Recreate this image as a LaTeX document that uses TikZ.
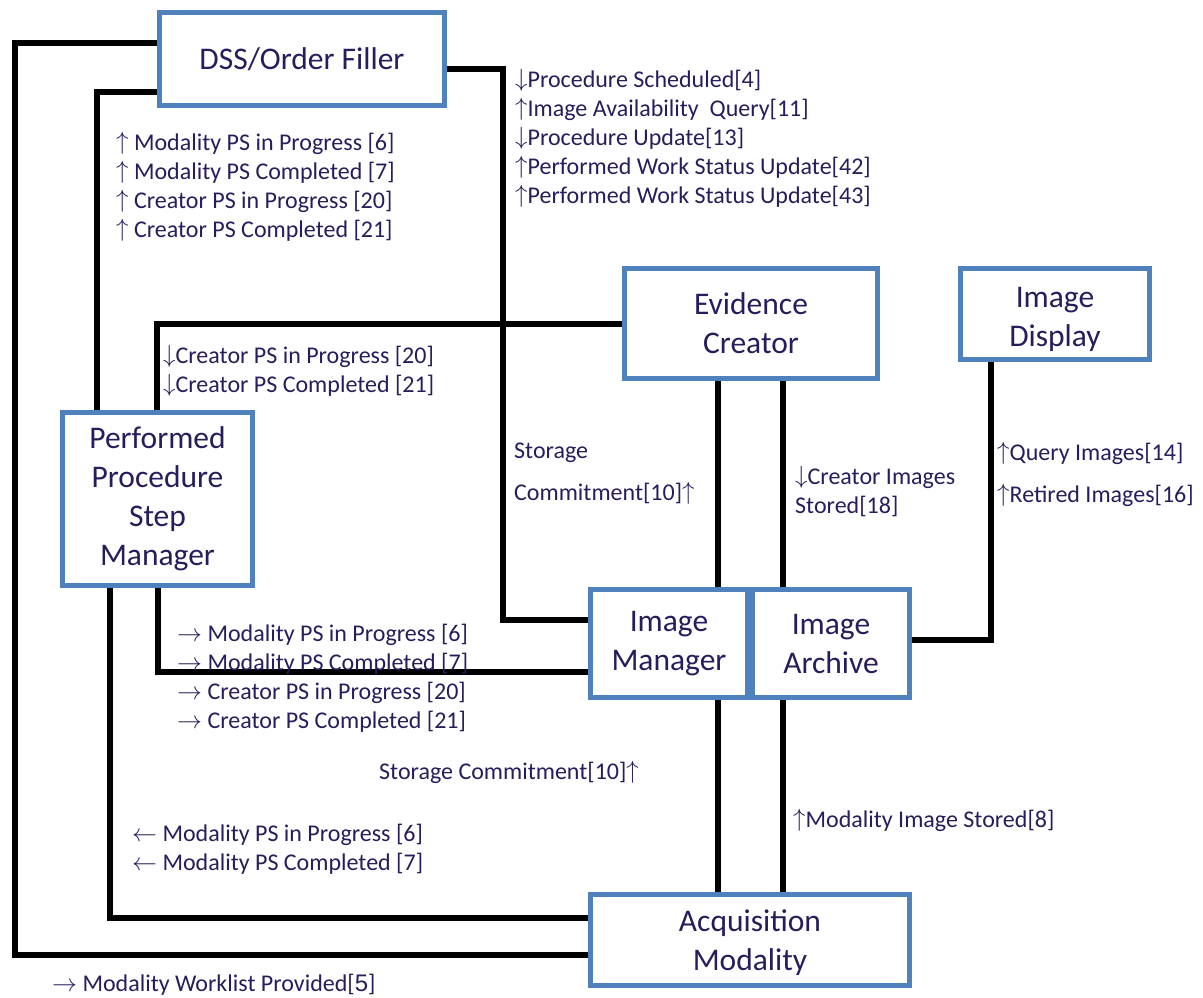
\documentclass[tikz,border=0pt]{standalone}
\usepackage{fontspec}
\setmainfont{Carlito}
\newfontfamily\numfont{Liberation Sans}
\usetikzlibrary{backgrounds}
\definecolor{boxblue}{RGB}{79,129,189}
\definecolor{ink}{RGB}{38,30,92}
\newcommand{\arUp}{\raisebox{1pt}{$\uparrow$}}
\newcommand{\arDn}{\raisebox{1pt}{$\downarrow$}}
\newcommand{\arRt}{$\rightarrow$}
\newcommand{\arLt}{$\leftarrow$}
\begin{document}
\begin{tikzpicture}[x=1pt,y=-1pt,
  boxtext/.style={text=ink,align=center,font=\fontsize{31.5}{39}\selectfont},
  box/.style={draw=boxblue,line width=5pt,fill=white,inner sep=0pt,boxtext},
  wire/.style={line width=6pt,black},
  lbl/.style={text=ink,align=left,anchor=west,inner sep=0pt,
    font=\fontsize{24}{29}\selectfont},
  widelbl/.style={lbl,font=\fontsize{24}{42}\selectfont}]
\useasboundingbox (0,0) rectangle (1203,997);

% actors
\node[box,minimum width=285,minimum height=93] (dss) at (302,59) {DSS/Order Filler};
\node[box,minimum width=253,minimum height=110] (ec) at (751,323.5) {Evidence\\Creator};
\node[box,minimum width=189,minimum height=91,
  label={[boxtext,yshift=-5pt]center:{Image\\Display}}] (idisp) at (1055,314) {};
\node[box,minimum width=190,minimum height=173] (ppsm) at (157.5,499) {Performed\\Procedure\\Step\\Manager};
\node[box,minimum width=157,minimum height=108] (im) at (669,643.5) {Image\\Manager};
\node[box,minimum width=157,minimum height=108] (ia) at (831,643.5) {Image\\Archive};
\node[box,minimum width=319,minimum height=91,
  label={[boxtext,yshift=-3pt]center:{Acquisition\\Modality}}] (acq) at (750,940) {};

% connections
\begin{scope}[on background layer]
\draw[wire] (dss.west |- 0,43) -| (15,955) -- (acq.west |- 0,955);
\draw[wire] (dss.west |- 0,92) -| (ppsm.north -| 97,0);
\draw[wire] (dss.east |- 0,69) -| (503,620) -- (im.west |- 0,620);
\draw[wire] (ppsm.north -| 157,0) |- (ec.west);
\draw[wire] (ppsm.south -| 158,0) |- (im.west |- 0,672);
\draw[wire] (ppsm.south -| 110,0) |- (acq.west |- 0,918);
\draw[wire] (ec.south -| 718,0) -- (im.north -| 718,0);
\draw[wire] (ec.south -| 783,0) -- (ia.north -| 783,0);
\draw[wire] (idisp.south -| 991,0) |- (ia.east |- 0,640);
\draw[wire] (im.south -| 718,0) -- (acq.north -| 718,0);
\draw[wire] (ia.south -| 783,0) -- (acq.north -| 783,0);
\end{scope}

% transactions
\node[lbl] (lblA) at (116,187) {\arUp\ Modality PS in Progress [6]\\\arUp\ Modality PS Completed [7]\\\arUp\ Creator PS in Progress [20]\\\arUp\ Creator PS Completed [21]};
\node[lbl] (lblB) at (515,138) {\arDn Procedure Scheduled[4]\\\arUp Image Availability\ \ Query[11]\\\arDn Procedure Update[13]\\\arUp Performed Work Status Update[42]\\\arUp Performed Work Status Update[43]};
\node[lbl] (lblC) at (163,371) {\arDn Creator PS in Progress [20]\\\arDn Creator PS Completed [21]};
\node[widelbl] (lblD) at (514,474) {Storage\\Commitment[10]\arUp};
\node[lbl] (lblE) at (795,491) {\arDn Creator Images\\Stored[18]};
\node[widelbl] (lblF) at (997,474) {\arUp Query Images[14]\\\arUp Retired Images[16]};
\node[lbl] (lblG) at (177,678) {\arRt\ Modality PS in Progress [6]\\\arRt\ Modality PS Completed [7]\\\arRt\ Creator PS in Progress [20]\\\arRt\ Creator PS Completed [21]};
\node[lbl] (lblH) at (379,772) {Storage Commitment[10]\arUp};
\node[lbl] (lblI) at (793,820) {\arUp Modality Image Stored[8]};
\node[lbl] (lblJ) at (132,849) {\arLt\ Modality PS in Progress [6]\\\arLt\ Modality PS Completed [7]};
\node[lbl] (lblK) at (52,985) {\arRt\ Modality Worklist Provided[{\numfont 5}]};
\end{tikzpicture}
\end{document}
